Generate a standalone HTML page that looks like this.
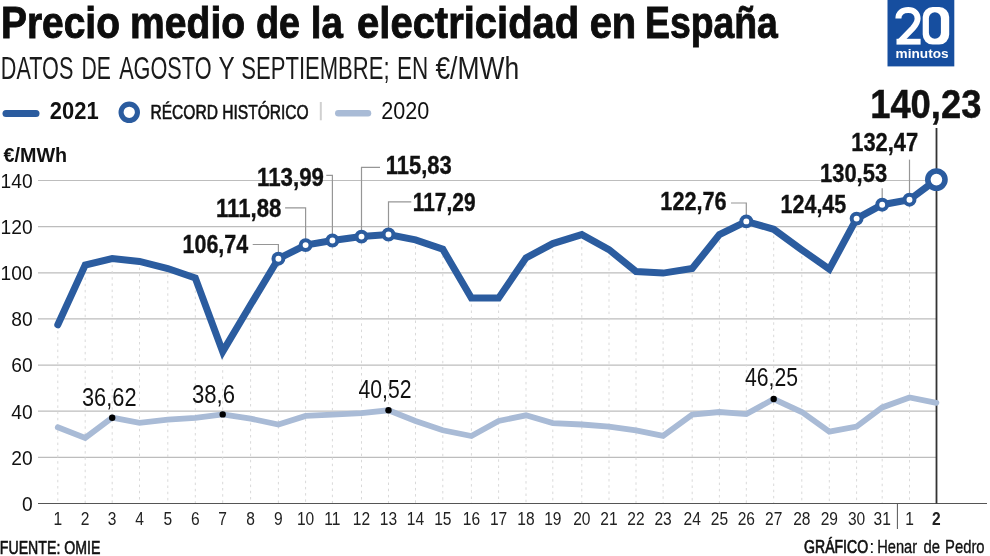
<!DOCTYPE html><html><head><meta charset="utf-8"><style>html,body{margin:0;padding:0;background:#fff;}svg{display:block;will-change:transform}text{font-family:"Liberation Sans",sans-serif;}</style></head><body>
<svg width="990" height="556" viewBox="0 0 990 556">
<rect width="990" height="556" fill="#fff"/>
<text x="1.00" y="37.6" font-size="44" font-weight="bold" textLength="118.93" lengthAdjust="spacingAndGlyphs" fill="#0d0d0d" stroke="#0d0d0d" stroke-width="0.9">Precio</text>
<text x="130.07" y="37.6" font-size="44" font-weight="bold" textLength="115.07" lengthAdjust="spacingAndGlyphs" fill="#0d0d0d" stroke="#0d0d0d" stroke-width="0.9">medio</text>
<text x="255.94" y="37.6" font-size="44" font-weight="bold" textLength="43.99" lengthAdjust="spacingAndGlyphs" fill="#0d0d0d" stroke="#0d0d0d" stroke-width="0.9">de</text>
<text x="310.87" y="37.6" font-size="44" font-weight="bold" textLength="32.11" lengthAdjust="spacingAndGlyphs" fill="#0d0d0d" stroke="#0d0d0d" stroke-width="0.9">la</text>
<text x="357.10" y="37.6" font-size="44" font-weight="bold" textLength="222.07" lengthAdjust="spacingAndGlyphs" fill="#0d0d0d" stroke="#0d0d0d" stroke-width="0.9">electricidad</text>
<text x="589.65" y="37.6" font-size="44" font-weight="bold" textLength="46.58" lengthAdjust="spacingAndGlyphs" fill="#0d0d0d" stroke="#0d0d0d" stroke-width="0.9">en</text>
<text x="645.05" y="37.6" font-size="44" font-weight="bold" textLength="132.81" lengthAdjust="spacingAndGlyphs" fill="#0d0d0d" stroke="#0d0d0d" stroke-width="0.9">España</text>
<text x="0.87" y="78.8" font-size="32" textLength="72.45" lengthAdjust="spacingAndGlyphs" fill="#1a1a1a">DATOS</text>
<text x="81.49" y="78.8" font-size="32" textLength="29.40" lengthAdjust="spacingAndGlyphs" fill="#1a1a1a">DE</text>
<text x="119.14" y="78.8" font-size="32" textLength="92.41" lengthAdjust="spacingAndGlyphs" fill="#1a1a1a">AGOSTO</text>
<text x="218.51" y="78.8" font-size="32" textLength="16.14" lengthAdjust="spacingAndGlyphs" fill="#1a1a1a">Y</text>
<text x="241.29" y="78.8" font-size="32" textLength="148.31" lengthAdjust="spacingAndGlyphs" fill="#1a1a1a">SEPTIEMBRE;</text>
<text x="396.93" y="78.8" font-size="32" textLength="31.21" lengthAdjust="spacingAndGlyphs" fill="#1a1a1a">EN</text>
<text x="435.41" y="78.8" font-size="32" textLength="83.68" lengthAdjust="spacingAndGlyphs" fill="#1a1a1a">€/MWh</text>
<rect x="887.5" y="0" width="66.8" height="66.4" fill="#164e9f"/>
<path d="M898.4,18.6 C898.4,12.6 902.6,10 908.2,10 C914,10 917.6,13.4 917.6,18.6 C917.6,22.6 915.6,25.2 912.8,28.3 L900.4,41" fill="none" stroke="#fff" stroke-width="6"/>
<rect x="896.5" y="38.8" width="24.1" height="5.8" fill="#fff"/>
<path fill-rule="evenodd" fill="#fff" d="M932.7,7 H939.2 A10,10 0 0 1 949.2,17 V34.6 A10,10 0 0 1 939.2,44.6 H932.7 A10,10 0 0 1 922.7,34.6 V17 A10,10 0 0 1 932.7,7 Z M934.9,12.3 A6,6 0 0 0 928.9,18.3 V32.8 A6,6 0 0 0 934.9,38.8 A6,6 0 0 0 940.9,32.8 V18.3 A6,6 0 0 0 934.9,12.3 Z"/>
<text x="895.6" y="57.7" font-size="13.5" font-weight="bold" textLength="53" lengthAdjust="spacingAndGlyphs" fill="#fff">minutos</text>
<line x1="6" y1="113.6" x2="36" y2="113.6" stroke="#2b5c9f" stroke-width="7" stroke-linecap="round"/>
<text x="49.86" y="119.2" font-size="24" font-weight="bold" textLength="48.81" lengthAdjust="spacingAndGlyphs" fill="#111">2021</text>
<circle cx="129.25" cy="112.3" r="8.2" fill="#fff" stroke="#2b5c9f" stroke-width="5.1"/>
<text x="150.46" y="119.4" font-size="20.5" textLength="158.28" lengthAdjust="spacingAndGlyphs" fill="#111" stroke="#111" stroke-width="0.6">RÉCORD HISTÓRICO</text>
<line x1="320.8" y1="102" x2="320.8" y2="120.3" stroke="#d0d0d0" stroke-width="2"/>
<line x1="338.3" y1="113.2" x2="368" y2="113.2" stroke="#a9bbd6" stroke-width="6.5" stroke-linecap="round"/>
<text x="381.32" y="118.8" font-size="24.4" textLength="48.00" lengthAdjust="spacingAndGlyphs" fill="#111">2020</text>
<text x="3.46" y="161.6" font-size="20.6" font-weight="bold" textLength="63.65" lengthAdjust="spacingAndGlyphs" fill="#111">€/MWh</text>
<line x1="38" y1="457.4" x2="937" y2="457.4" stroke="#bdbdbd" stroke-width="1.2"/>
<line x1="38" y1="411.2" x2="937" y2="411.2" stroke="#bdbdbd" stroke-width="1.2"/>
<line x1="38" y1="365.1" x2="937" y2="365.1" stroke="#bdbdbd" stroke-width="1.2"/>
<line x1="38" y1="318.9" x2="937" y2="318.9" stroke="#bdbdbd" stroke-width="1.2"/>
<line x1="38" y1="272.8" x2="937" y2="272.8" stroke="#bdbdbd" stroke-width="1.2"/>
<line x1="38" y1="226.7" x2="937" y2="226.7" stroke="#bdbdbd" stroke-width="1.2"/>
<line x1="38" y1="180.5" x2="937" y2="180.5" stroke="#bdbdbd" stroke-width="1.2"/>
<text transform="translate(32.6,510.8) scale(0.915,1)" font-size="21" text-anchor="end" fill="#111">0</text>
<text transform="translate(32.6,464.7) scale(0.915,1)" font-size="21" text-anchor="end" fill="#111">20</text>
<text transform="translate(32.6,418.5) scale(0.915,1)" font-size="21" text-anchor="end" fill="#111">40</text>
<text transform="translate(32.6,372.4) scale(0.915,1)" font-size="21" text-anchor="end" fill="#111">60</text>
<text transform="translate(32.6,326.2) scale(0.915,1)" font-size="21" text-anchor="end" fill="#111">80</text>
<text transform="translate(32.6,280.1) scale(0.915,1)" font-size="21" text-anchor="end" fill="#111">100</text>
<text transform="translate(32.6,234.0) scale(0.915,1)" font-size="21" text-anchor="end" fill="#111">120</text>
<text transform="translate(32.6,187.8) scale(0.915,1)" font-size="21" text-anchor="end" fill="#111">140</text>
<line x1="57.8" y1="324.8" x2="57.8" y2="503" stroke="#d9d9d9" stroke-width="1" stroke-dasharray="2.5 3.7"/>
<line x1="85.2" y1="265.1" x2="85.2" y2="503" stroke="#d9d9d9" stroke-width="1" stroke-dasharray="2.5 3.7"/>
<line x1="112.2" y1="258.6" x2="112.2" y2="503" stroke="#d9d9d9" stroke-width="1" stroke-dasharray="2.5 3.7"/>
<line x1="139.5" y1="261.4" x2="139.5" y2="503" stroke="#d9d9d9" stroke-width="1" stroke-dasharray="2.5 3.7"/>
<line x1="167.8" y1="268.5" x2="167.8" y2="503" stroke="#d9d9d9" stroke-width="1" stroke-dasharray="2.5 3.7"/>
<line x1="195.3" y1="278.0" x2="195.3" y2="503" stroke="#d9d9d9" stroke-width="1" stroke-dasharray="2.5 3.7"/>
<line x1="222.7" y1="351.6" x2="222.7" y2="503" stroke="#d9d9d9" stroke-width="1" stroke-dasharray="2.5 3.7"/>
<line x1="250.6" y1="304.8" x2="250.6" y2="503" stroke="#d9d9d9" stroke-width="1" stroke-dasharray="2.5 3.7"/>
<line x1="278.4" y1="258.7" x2="278.4" y2="503" stroke="#d9d9d9" stroke-width="1" stroke-dasharray="2.5 3.7"/>
<line x1="305.6" y1="245.1" x2="305.6" y2="503" stroke="#d9d9d9" stroke-width="1" stroke-dasharray="2.5 3.7"/>
<line x1="332.4" y1="240.5" x2="332.4" y2="503" stroke="#d9d9d9" stroke-width="1" stroke-dasharray="2.5 3.7"/>
<line x1="361.5" y1="236.6" x2="361.5" y2="503" stroke="#d9d9d9" stroke-width="1" stroke-dasharray="2.5 3.7"/>
<line x1="388.5" y1="234.5" x2="388.5" y2="503" stroke="#d9d9d9" stroke-width="1" stroke-dasharray="2.5 3.7"/>
<line x1="415.5" y1="239.9" x2="415.5" y2="503" stroke="#d9d9d9" stroke-width="1" stroke-dasharray="2.5 3.7"/>
<line x1="442.8" y1="249.2" x2="442.8" y2="503" stroke="#d9d9d9" stroke-width="1" stroke-dasharray="2.5 3.7"/>
<line x1="471.4" y1="298.1" x2="471.4" y2="503" stroke="#d9d9d9" stroke-width="1" stroke-dasharray="2.5 3.7"/>
<line x1="498.6" y1="298.1" x2="498.6" y2="503" stroke="#d9d9d9" stroke-width="1" stroke-dasharray="2.5 3.7"/>
<line x1="526.0" y1="257.9" x2="526.0" y2="503" stroke="#d9d9d9" stroke-width="1" stroke-dasharray="2.5 3.7"/>
<line x1="552.8" y1="243.6" x2="552.8" y2="503" stroke="#d9d9d9" stroke-width="1" stroke-dasharray="2.5 3.7"/>
<line x1="581.8" y1="234.6" x2="581.8" y2="503" stroke="#d9d9d9" stroke-width="1" stroke-dasharray="2.5 3.7"/>
<line x1="609.0" y1="249.6" x2="609.0" y2="503" stroke="#d9d9d9" stroke-width="1" stroke-dasharray="2.5 3.7"/>
<line x1="636.0" y1="271.5" x2="636.0" y2="503" stroke="#d9d9d9" stroke-width="1" stroke-dasharray="2.5 3.7"/>
<line x1="663.1" y1="273.1" x2="663.1" y2="503" stroke="#d9d9d9" stroke-width="1" stroke-dasharray="2.5 3.7"/>
<line x1="692.2" y1="268.5" x2="692.2" y2="503" stroke="#d9d9d9" stroke-width="1" stroke-dasharray="2.5 3.7"/>
<line x1="719.4" y1="234.6" x2="719.4" y2="503" stroke="#d9d9d9" stroke-width="1" stroke-dasharray="2.5 3.7"/>
<line x1="746.3" y1="221.4" x2="746.3" y2="503" stroke="#d9d9d9" stroke-width="1" stroke-dasharray="2.5 3.7"/>
<line x1="773.7" y1="229.3" x2="773.7" y2="503" stroke="#d9d9d9" stroke-width="1" stroke-dasharray="2.5 3.7"/>
<line x1="801.8" y1="249.8" x2="801.8" y2="503" stroke="#d9d9d9" stroke-width="1" stroke-dasharray="2.5 3.7"/>
<line x1="829.3" y1="269.2" x2="829.3" y2="503" stroke="#d9d9d9" stroke-width="1" stroke-dasharray="2.5 3.7"/>
<line x1="856.6" y1="218.6" x2="856.6" y2="503" stroke="#d9d9d9" stroke-width="1" stroke-dasharray="2.5 3.7"/>
<line x1="882.2" y1="204.7" x2="882.2" y2="503" stroke="#d9d9d9" stroke-width="1" stroke-dasharray="2.5 3.7"/>
<line x1="909.5" y1="199.7" x2="909.5" y2="503" stroke="#d9d9d9" stroke-width="1" stroke-dasharray="2.5 3.7"/>
<line x1="38" y1="503.5" x2="987" y2="503.5" stroke="#555" stroke-width="1.2"/>
<line x1="897.4" y1="503.5" x2="897.4" y2="529" stroke="#555" stroke-width="1"/>
<line x1="936.5" y1="128" x2="936.5" y2="503.5" stroke="#333" stroke-width="1.8"/>
<text transform="translate(57.8,525) scale(0.82,1)" font-size="19" text-anchor="middle" fill="#222">1</text>
<text transform="translate(85.2,525) scale(0.82,1)" font-size="19" text-anchor="middle" fill="#222">2</text>
<text transform="translate(112.2,525) scale(0.82,1)" font-size="19" text-anchor="middle" fill="#222">3</text>
<text transform="translate(139.5,525) scale(0.82,1)" font-size="19" text-anchor="middle" fill="#222">4</text>
<text transform="translate(167.8,525) scale(0.82,1)" font-size="19" text-anchor="middle" fill="#222">5</text>
<text transform="translate(195.3,525) scale(0.82,1)" font-size="19" text-anchor="middle" fill="#222">6</text>
<text transform="translate(222.7,525) scale(0.82,1)" font-size="19" text-anchor="middle" fill="#222">7</text>
<text transform="translate(250.6,525) scale(0.82,1)" font-size="19" text-anchor="middle" fill="#222">8</text>
<text transform="translate(278.4,525) scale(0.82,1)" font-size="19" text-anchor="middle" fill="#222">9</text>
<text transform="translate(305.6,525) scale(0.82,1)" font-size="19" text-anchor="middle" fill="#222">10</text>
<text transform="translate(332.4,525) scale(0.82,1)" font-size="19" text-anchor="middle" fill="#222">11</text>
<text transform="translate(361.5,525) scale(0.82,1)" font-size="19" text-anchor="middle" fill="#222">12</text>
<text transform="translate(388.5,525) scale(0.82,1)" font-size="19" text-anchor="middle" fill="#222">13</text>
<text transform="translate(415.5,525) scale(0.82,1)" font-size="19" text-anchor="middle" fill="#222">14</text>
<text transform="translate(442.8,525) scale(0.82,1)" font-size="19" text-anchor="middle" fill="#222">15</text>
<text transform="translate(471.4,525) scale(0.82,1)" font-size="19" text-anchor="middle" fill="#222">16</text>
<text transform="translate(498.6,525) scale(0.82,1)" font-size="19" text-anchor="middle" fill="#222">17</text>
<text transform="translate(526.0,525) scale(0.82,1)" font-size="19" text-anchor="middle" fill="#222">18</text>
<text transform="translate(552.8,525) scale(0.82,1)" font-size="19" text-anchor="middle" fill="#222">19</text>
<text transform="translate(581.8,525) scale(0.82,1)" font-size="19" text-anchor="middle" fill="#222">20</text>
<text transform="translate(609.0,525) scale(0.82,1)" font-size="19" text-anchor="middle" fill="#222">21</text>
<text transform="translate(636.0,525) scale(0.82,1)" font-size="19" text-anchor="middle" fill="#222">22</text>
<text transform="translate(663.1,525) scale(0.82,1)" font-size="19" text-anchor="middle" fill="#222">23</text>
<text transform="translate(692.2,525) scale(0.82,1)" font-size="19" text-anchor="middle" fill="#222">24</text>
<text transform="translate(719.4,525) scale(0.82,1)" font-size="19" text-anchor="middle" fill="#222">25</text>
<text transform="translate(746.3,525) scale(0.82,1)" font-size="19" text-anchor="middle" fill="#222">26</text>
<text transform="translate(773.7,525) scale(0.82,1)" font-size="19" text-anchor="middle" fill="#222">27</text>
<text transform="translate(801.8,525) scale(0.82,1)" font-size="19" text-anchor="middle" fill="#222">28</text>
<text transform="translate(829.3,525) scale(0.82,1)" font-size="19" text-anchor="middle" fill="#222">29</text>
<text transform="translate(856.6,525) scale(0.82,1)" font-size="19" text-anchor="middle" fill="#222">30</text>
<text transform="translate(882.2,525) scale(0.82,1)" font-size="19" text-anchor="middle" fill="#222">31</text>
<text transform="translate(909.5,525) scale(0.82,1)" font-size="19" text-anchor="middle" fill="#222">1</text>
<text transform="translate(936.4,525) scale(0.82,1)" font-size="19" text-anchor="middle" font-weight="bold" fill="#222">2</text>
<polyline points="57.8,427.3 85.2,437.9 112.2,417.7 139.5,422.9 167.8,419.6 195.3,417.8 222.7,414.4 250.6,418.7 278.4,424.5 305.6,415.9 332.4,414.6 361.5,413.2 388.5,410.3 415.5,421.0 442.8,430.3 471.4,436.0 498.6,421.0 526.0,415.3 552.8,423.1 581.8,424.5 609.0,426.6 636.0,430.3 663.1,435.8 692.2,414.6 719.4,412.0 746.3,414.1 773.7,399.0 801.8,412.0 829.3,431.6 856.6,426.6 882.2,407.4 909.5,397.5 936.4,402.8" fill="none" stroke="#a9bbd6" stroke-width="5.8" stroke-linejoin="miter" stroke-linecap="round"/>
<circle cx="112.2" cy="417.7" r="3.2" fill="#000"/>
<circle cx="222.7" cy="414.4" r="3.2" fill="#000"/>
<circle cx="388.5" cy="410.3" r="3.2" fill="#000"/>
<circle cx="773.7" cy="399.0" r="3.2" fill="#000"/>
<text x="82.01" y="405.8" font-size="25.6" textLength="54.49" lengthAdjust="spacingAndGlyphs" fill="#111">36,62</text>
<text x="192.00" y="402.8" font-size="25.6" textLength="43.00" lengthAdjust="spacingAndGlyphs" fill="#111">38,6</text>
<text x="358.50" y="398.4" font-size="25.6" textLength="52.98" lengthAdjust="spacingAndGlyphs" fill="#111">40,52</text>
<text x="745.00" y="386.4" font-size="25.6" textLength="53.00" lengthAdjust="spacingAndGlyphs" fill="#111">46,25</text>
<polyline points="57.8,324.8 85.2,265.1 112.2,258.6 139.5,261.4 167.8,268.5 195.3,278.0 222.7,351.6 250.6,304.8 278.4,258.7 305.6,245.1 332.4,240.5 361.5,236.6 388.5,234.5 415.5,239.9 442.8,249.2 471.4,298.1 498.6,298.1 526.0,257.9 552.8,243.6 581.8,234.6 609.0,249.6 636.0,271.5 663.1,273.1 692.2,268.5 719.4,234.6 746.3,221.4 773.7,229.3 801.8,249.8 829.3,269.2 856.6,218.6 882.2,204.7 909.5,199.7 936.4,179.6" fill="none" stroke="#2b5c9f" stroke-width="7" stroke-linejoin="miter" stroke-linecap="round" stroke-miterlimit="10"/>
<polyline points="252.7,244.5 278.4,244.5 278.4,253.7273" fill="none" stroke="#969696" stroke-width="1.2"/>
<polyline points="285.1,207.8 305.6,207.8 305.6,240.11599999999999" fill="none" stroke="#969696" stroke-width="1.2"/>
<polyline points="326.3,175.3 332.4,175.3 332.4,235.502" fill="none" stroke="#969696" stroke-width="1.2"/>
<polyline points="380,167.3 361.5,167.3 361.5,231.58010000000002" fill="none" stroke="#969696" stroke-width="1.2"/>
<polyline points="411.3,201.8 388.5,201.8 388.5,229.5038" fill="none" stroke="#969696" stroke-width="1.2"/>
<polyline points="731,203 746.3,203 746.3,216.3539" fill="none" stroke="#969696" stroke-width="1.2"/>
<polyline points="882.2,188.2 882.2,199.74349999999998" fill="none" stroke="#969696" stroke-width="1.2"/>
<polyline points="909.5,159.6 909.5,194.66810000000004" fill="none" stroke="#969696" stroke-width="1.2"/>
<circle cx="278.4" cy="258.7" r="4.95" fill="#fff" stroke="#2b5c9f" stroke-width="4.0"/>
<circle cx="305.6" cy="245.1" r="4.95" fill="#fff" stroke="#2b5c9f" stroke-width="4.0"/>
<circle cx="332.4" cy="240.5" r="4.95" fill="#fff" stroke="#2b5c9f" stroke-width="4.0"/>
<circle cx="361.5" cy="236.6" r="4.95" fill="#fff" stroke="#2b5c9f" stroke-width="4.0"/>
<circle cx="388.5" cy="234.5" r="4.95" fill="#fff" stroke="#2b5c9f" stroke-width="4.0"/>
<circle cx="746.3" cy="221.4" r="4.95" fill="#fff" stroke="#2b5c9f" stroke-width="4.0"/>
<circle cx="856.6" cy="218.6" r="4.95" fill="#fff" stroke="#2b5c9f" stroke-width="4.0"/>
<circle cx="882.2" cy="204.7" r="4.95" fill="#fff" stroke="#2b5c9f" stroke-width="4.0"/>
<circle cx="909.5" cy="199.7" r="4.95" fill="#fff" stroke="#2b5c9f" stroke-width="4.0"/>
<circle cx="936.4" cy="179.6" r="8.6" fill="#fff" stroke="#2b5c9f" stroke-width="5.6"/>
<text x="182.59" y="253.2" font-size="25" font-weight="bold" textLength="65.53" lengthAdjust="spacingAndGlyphs" fill="#111" stroke="#111" stroke-width="0.35">106,74</text>
<text x="216.01" y="216.9" font-size="25" font-weight="bold" textLength="65.42" lengthAdjust="spacingAndGlyphs" fill="#111" stroke="#111" stroke-width="0.35">111,88</text>
<text x="257.01" y="185.6" font-size="25" font-weight="bold" textLength="66.91" lengthAdjust="spacingAndGlyphs" fill="#111" stroke="#111" stroke-width="0.35">113,99</text>
<text x="385.70" y="173.6" font-size="25" font-weight="bold" textLength="66.02" lengthAdjust="spacingAndGlyphs" fill="#111" stroke="#111" stroke-width="0.35">115,83</text>
<text x="412.79" y="210.5" font-size="25" font-weight="bold" textLength="62.74" lengthAdjust="spacingAndGlyphs" fill="#111" stroke="#111" stroke-width="0.35">117,29</text>
<text x="660.37" y="209.5" font-size="25" font-weight="bold" textLength="66.17" lengthAdjust="spacingAndGlyphs" fill="#111" stroke="#111" stroke-width="0.35">122,76</text>
<text x="780.49" y="213.4" font-size="25" font-weight="bold" textLength="65.82" lengthAdjust="spacingAndGlyphs" fill="#111" stroke="#111" stroke-width="0.35">124,45</text>
<text x="820.01" y="182.3" font-size="25" font-weight="bold" textLength="67.10" lengthAdjust="spacingAndGlyphs" fill="#111" stroke="#111" stroke-width="0.35">130,53</text>
<text x="851.29" y="150.7" font-size="25" font-weight="bold" textLength="66.93" lengthAdjust="spacingAndGlyphs" fill="#111" stroke="#111" stroke-width="0.35">132,47</text>
<text x="870.17" y="118.1" font-size="41" font-weight="bold" textLength="111.25" lengthAdjust="spacingAndGlyphs" fill="#111" stroke="#111" stroke-width="0.5">140,23</text>
<text x="-0.16" y="553.6" font-size="18.6" textLength="100.53" lengthAdjust="spacingAndGlyphs" fill="#111" stroke="#111" stroke-width="0.6">FUENTE: OMIE</text>
<text x="804.07" y="553.2" font-size="18.6" textLength="64.06" lengthAdjust="spacingAndGlyphs" fill="#111" stroke="#111" stroke-width="0.7">GRÁFICO</text>
<text x="869.2" y="553.2" font-size="18.6" fill="#111">:</text>
<text x="877.30" y="553.2" font-size="18.6" textLength="39.84" lengthAdjust="spacingAndGlyphs" fill="#111" stroke="#111" stroke-width="0.35">Henar</text>
<text x="923.61" y="553.2" font-size="18.6" textLength="16.44" lengthAdjust="spacingAndGlyphs" fill="#111" stroke="#111" stroke-width="0.35">de</text>
<text x="945.09" y="553.2" font-size="18.6" textLength="39.52" lengthAdjust="spacingAndGlyphs" fill="#111" stroke="#111" stroke-width="0.35">Pedro</text>
</svg></body></html>
